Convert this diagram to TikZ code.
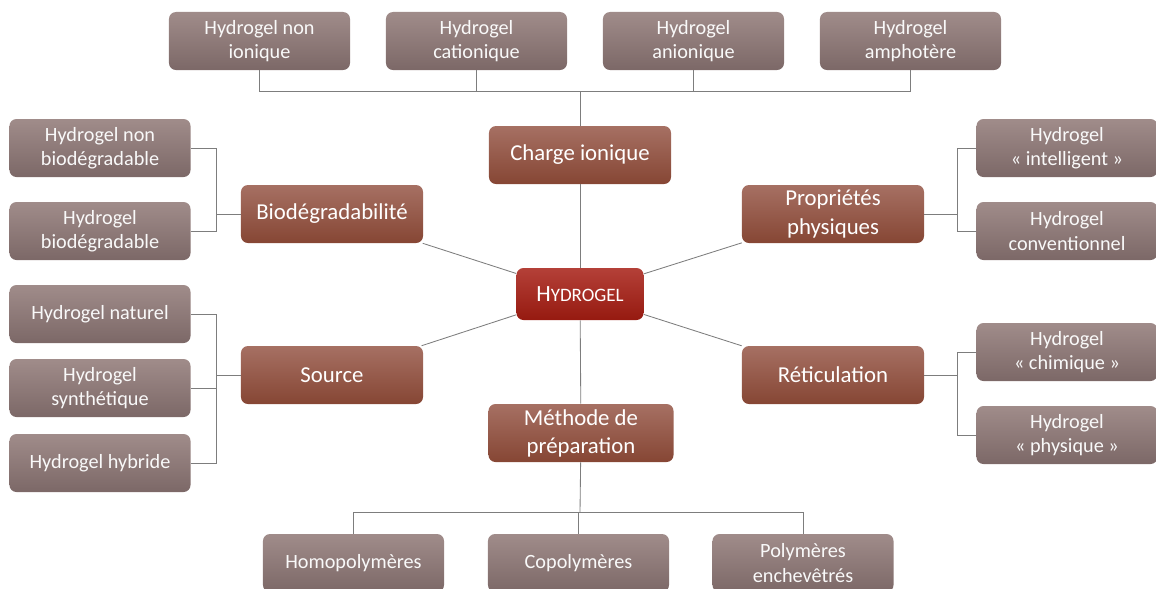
\documentclass[tikz,border=0pt]{standalone}
\usepackage{fontspec}
\setmainfont{Carlito}
\definecolor{leaftop}{RGB}{160,140,138}
\definecolor{leafbot}{RGB}{124,104,103}
\definecolor{cattop}{RGB}{166,112,99}
\definecolor{catbot}{RGB}{134,70,52}
\definecolor{hubtop}{RGB}{180,64,56}
\definecolor{hubbot}{RGB}{150,26,16}
\definecolor{linkgray}{RGB}{125,125,125}
\tikzset{
  leaf/.style={rounded corners=5pt, top color=leaftop, bottom color=leafbot, text=white!95!gray,
    minimum width=4.525cm, minimum height=1.45cm, align=center, inner sep=2pt,
    font=\fontsize{14.4}{17.3}\selectfont},
  cat/.style={rounded corners=5pt, top color=cattop, bottom color=catbot, text=white,
    minimum width=4.55cm, minimum height=1.45cm, align=center, inner sep=2pt,
    font=\fontsize{16.2}{20}\selectfont},
  hub/.style={rounded corners=5pt, top color=hubtop, bottom color=hubbot, text=white,
    minimum width=3.175cm, minimum height=1.3cm, align=center, inner sep=2pt},
  link/.style={draw=linkgray, line width=0.6pt}
}
\begin{document}
\begin{tikzpicture}[x=0.025cm,y=-0.025cm]
		\useasboundingbox (0,0) rectangle (1156,588);
		% centre
		\node[hub](H) at (580,294) {\fontsize{16.5}{20}\selectfont H\fontsize{13.5}{20}\selectfont YDROGEL};
		% categories
		\node[cat](C) at (580,155) {Charge ionique};
		\node[cat](B) at (332,214) {Biodégradabilité};
		\node[cat](P) at (833,214) {Propriétés\\physiques};
		\node[cat](S) at (332,375) {Source};
		\node[cat](R) at (833,375) {Réticulation};
		\node[cat, minimum width=4.625cm](M) at (581,433) {Méthode de\\préparation};
		% top row
		\node[leaf](C1) at (259.5,41) {Hydrogel non\\ionique};
		\node[leaf](C2) at (476.5,41) {Hydrogel\\cationique};
		\node[leaf](C3) at (693.5,41) {Hydrogel\\anionique};
		\node[leaf](C4) at (910.5,41) {Hydrogel\\amphotère};
		% left column
		\node[leaf](B1) at (100,148) {Hydrogel non\\biodégradable};
		\node[leaf](B2) at (100,231) {Hydrogel\\biodégradable};
		\node[leaf](S1) at (100,314) {Hydrogel naturel};
		\node[leaf](S2) at (100,388) {Hydrogel\\synthétique};
		\node[leaf](S3) at (100,463) {Hydrogel hybride};
		% right column
		\node[leaf](P1) at (1067,148) {Hydrogel\\« intelligent »};
		\node[leaf](P2) at (1067,231) {Hydrogel\\conventionnel};
		\node[leaf](R1) at (1067,352) {Hydrogel\\« chimique »};
		\node[leaf](R2) at (1067,435) {Hydrogel\\« physique »};
		% bottom row
		\node[leaf](M1) at (353.5,563) {Homopolymères};
		\node[leaf](M2) at (578.5,563) {Copolymères};
		\node[leaf](M3) at (803,563) {Polymères\\enchevêtrés};
		% junction points
		\coordinate (jc) at (580,91);
		\coordinate (jb) at (216,214);
		\coordinate (js) at (216,375);
		\coordinate (jp) at (957,214);
		\coordinate (jr) at (957,375);
		\coordinate (jm) at (580,512);
		% spokes
		\foreach \n in {C,B,P,S,R,M}
			\draw[link] (H) -- (\n);
		% brackets
		\foreach \n in {C1,C2,C3,C4}
			\draw[link] (\n.south) |- (jc);
		\draw[link] (jc) -- (C);
		\foreach \n in {B1,B2}
			\draw[link] (\n.east) -| (jb);
		\draw[link] (jb) -- (B);
		\foreach \n in {S1,S2,S3}
			\draw[link] (\n.east) -| (js);
		\draw[link] (js) -- (S);
		\foreach \n in {P1,P2}
			\draw[link] (\n.west) -| (jp);
		\draw[link] (jp) -- (P);
		\foreach \n in {R1,R2}
			\draw[link] (\n.west) -| (jr);
		\draw[link] (jr) -- (R);
		\foreach \n in {M1,M2,M3}
			\draw[link] (\n.north) |- (jm);
		\draw[link] (jm) -- (M);
\end{tikzpicture}
\end{document}
